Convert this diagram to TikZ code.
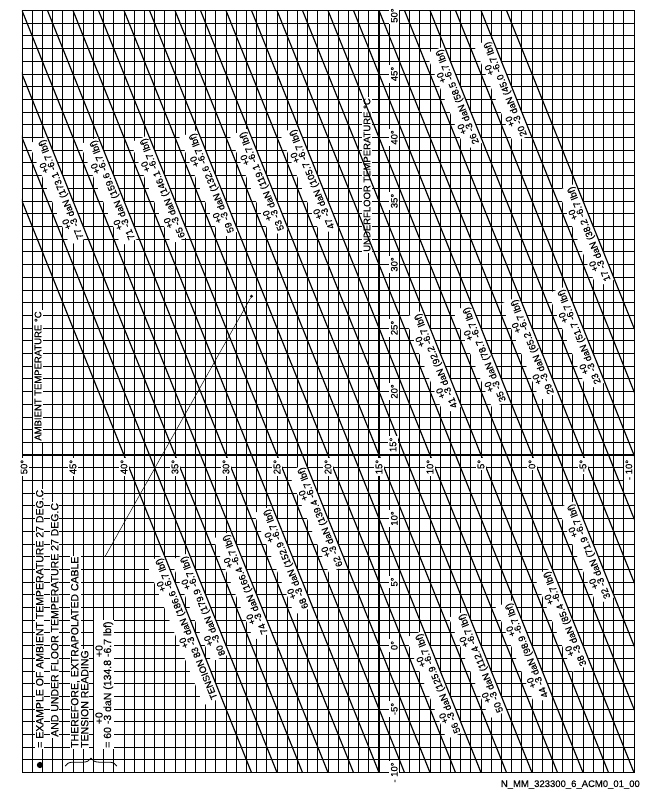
\documentclass[tikz,border=0pt]{standalone}
\usepackage{fontspec}
\setmainfont{Liberation Sans}[FakeBold=0.4]
\usetikzlibrary{decorations.pathreplacing}

\newcommand{\tol}[1]{\rlap{\raisebox{0.8em}{+0}}-#1}

\tikzset{
	gridline/.style={line width=0.8pt},
	tensionline/.style={line width=1.2pt},
	axisline/.style={line width=2.4pt},
	tenlabel/.style={rotate=111.88, anchor=south, fill=white, inner sep=1.5pt, font=\fontsize{9.5}{10}\selectfont},
	ticklabel/.style={rotate=90, fill=white, inner sep=1.5pt, font=\fontsize{9.5}{10}\selectfont},
	legendrow/.style={rotate=90, anchor=base west, fill=white, inner sep=1pt, font=\fontsize{10.5}{10}\selectfont},
}

\begin{document}
\begin{tikzpicture}[x=-10.2pt, y=12.7pt]
\useasboundingbox (52.157,-11.535) rectangle (-11.373,50.827);
%\draw [help lines,red] (-10,-10) grid (50,50);

% grid, one degree each way
\foreach \a in {-10,...,50}
	\draw[gridline] (\a,-10) -- (\a,50);
\foreach \uf in {-10,...,50}
	\draw[gridline] (-10,\uf) -- (50,\uf);

% tension labels, sitting on their lines
\foreach \tz/\uf/\dan/\lbf in {35/36.1/77/173.1, 30/36.05/71/159.6, 25/36.2/65/146.1, 20/36.6/59/132.6, 15/36.75/53/119.1, 10/36.9/47/105.7,
	-7.5/43.4/26/58.5, -12.5/44/20/45.0, -15/32.6/17/38.2, -10/24.5/23/51.7, -5/23.7/29/65.2, 0/23.1/35/78.7, 5/22.6/41/92.2,
	37.5/3.3/80/179.9, 32.5/5/74/166.4, 27.5/7/68/152.9, 22.5/10.3/62/139.4,
	17.5/-2.8/56/125.9, 12.5/-1.2/50/112.4, 7.5/-0.2/44/98.9, 2.5/2.3/38/85.4, -2.5/7.6/32/71.9}
	\node[tenlabel] (t\dan) at ({\tz+(\uf-15)/2},\uf) {\dan\ \tol{3} daN (\lbf\ \tol{6.7} lbf)};
\node[tenlabel] (t83) at ({40+(1.5-15)/2},1.5) {TENSION 83 \tol{3} daN (186.6 \tol{6.7} lbf)};

\node[ticklabel] (ambtitle) at (48.43,21.22) {AMBIENT TEMPERATURE °C};
\node[ticklabel] (uftitle) at (16.18,37.05) {UNDERFLOOR TEMPERATURE °C};

% legend
\node[circle, fill, inner sep=2.2pt] (bullet) at (48.24,-9.41) {};
\node[legendrow] (row1) at (47.91,-8.15) {= EXAMPLE OF AMBIENT TEMPERATURE 27 DEG.C};
\node[legendrow] (row2) at (46.44,-7.28) {AND UNDER FLOOR TEMPERATURE 27 DEG.C};
\node[legendrow] (row3) at (44.48,-8.15) {THEREFORE, EXTRAPOLATED CABLE};
\node[legendrow] (row4) at (43.5,-8.15) {TENSION READING};
\node[legendrow] (row5) at (41.27,-8.15) {= 60 \tol{3} daN (134.8 \tol{6.7} lbf)};
\draw[line width=0.8pt, decorate, decoration={brace, amplitude=8pt}] (45.78,-9.5) -- (40.69,-9.5);

% tension lines
\begin{scope}
\clip (-10,-10) rectangle (50,50);
\foreach \k in {0,...,22}
	\draw[tensionline] ({-27.5+2.5*\k},-10) -- ({2.5+2.5*\k},50);
\end{scope}

\draw[axisline] (-10,15) -- (50,15);
\draw[axisline] (15,-10) -- (15,50);

% ambient scale
\foreach \a [count=\i] in {45,40,...,-5}
	\node[ticklabel, anchor=east] (hx\i) at (\a,14.75) {\a°};
\node[ticklabel, anchor=east] (hxl) at (49.8,14.75) {50°};
\node[ticklabel, anchor=east] (hxr) at (-9.5,14.75) {- 10°};

% underfloor scale
\foreach \uf [count=\i] in {20,25,...,45,10,5,0,-5}
	\node[ticklabel] (vx\i) at (13.5,\uf) {\uf°};
\node[ticklabel] (vxt) at (13.5,49.6) {50°};
\node[ticklabel] (vxb) at (13.5,-10) {- 10°};
\node[ticklabel, anchor=west] (vxm) at (13.63,15.1) {15°};

% example point
\node[circle, fill, inner sep=1.1pt] (example) at (27.5,27.5) {};
\coordinate (leaderend) at (41.86,7);
\draw[line width=0.5pt] (example) -- (leaderend);

\node[anchor=base east, inner sep=0pt, font=\fontsize{9.5}{10}\selectfont] (docid) at (-10.59,-11.14) {N\_MM\_323300\_6\_ACM0\_01\_00};

\end{tikzpicture}
\end{document}
